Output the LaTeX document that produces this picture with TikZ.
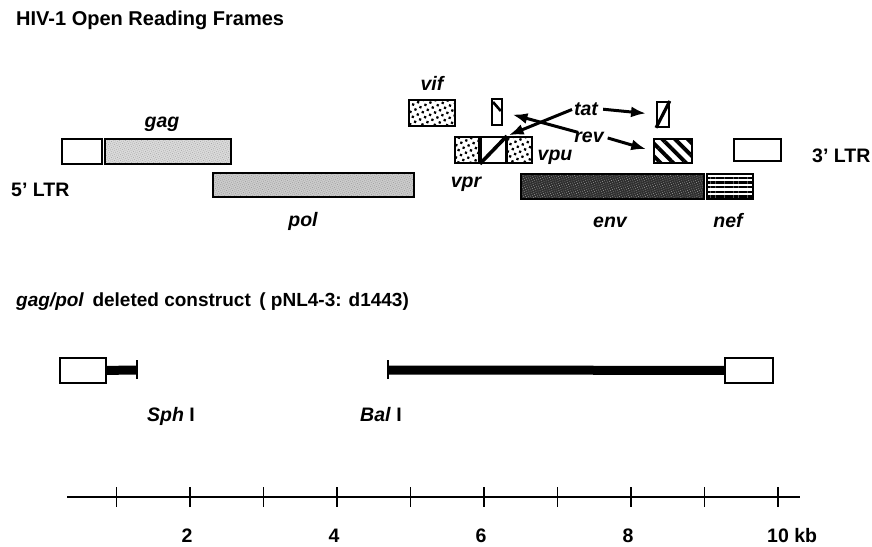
\documentclass[tikz,border=0pt]{standalone}
\usepackage{fontspec}
\setmainfont{Liberation Sans}
\usetikzlibrary{arrows.meta, patterns, patterns.meta}

\tikzset{
  orf/.style={draw, line width=1.8pt, inner sep=0pt, anchor=north west},
  genelbl/.style={font=\fontsize{19.5}{22}\selectfont\bfseries\itshape, anchor=base, inner sep=0pt},
  plainlbl/.style={font=\fontsize{19.5}{22}\selectfont\bfseries, anchor=base, inner sep=0pt},
  stipple/.style={preaction={fill=gray!28}, pattern={Dots[radius=0.45pt, distance=1.9pt, angle=20]}, pattern color=gray!75},
  speckle/.style={pattern={Dots[radius=1.6pt, distance=5.5pt, angle=25]}},
  readarrow/.style={line width=3pt, -{Latex[length=15pt, width=11pt]}},
  construct/.style={line width=9pt}
}

\begin{document}
\begin{tikzpicture}[x=1pt, y=-1pt]
  \useasboundingbox (0,0) rectangle (872,546);
  % open reading frames
  \node[plainlbl, anchor=base west, font=\fontsize{20}{22}\selectfont\bfseries] (title) at (16,25) {HIV-1 Open Reading Frames};
  \node[orf, minimum width=40, minimum height=25] (ltrfive) at (61,138) {};
  \node[orf, stipple, minimum width=126, minimum height=25] (gag) at (104,138) {};
  \node[orf, stipple, pattern color=gray!85, preaction={fill=gray!40}, minimum width=201, minimum height=24] (pol) at (212,172) {};
  \node[orf, speckle, minimum width=46, minimum height=26] (vif) at (408,99) {};
  \node[orf, minimum width=10, minimum height=26] (revone) at (491,98) {};
  \draw[line width=2.6pt] ([xshift=2,yshift=-4]revone.north west) -- ([xshift=-2,yshift=-13]revone.north east);
  \node[orf, speckle, minimum width=24, minimum height=26] (vpr) at (454,136) {};
  \node[orf, minimum width=25, minimum height=26] (tatone) at (480,136) {};
  \draw[line width=3.6pt] (tatone.south west) -- (tatone.north east);
  \node[orf, speckle, minimum width=25, minimum height=26] (vpu) at (506,136) {};
  \node[orf, minimum width=12, minimum height=25] (tattwo) at (656,101) {};
  \draw[line width=3.2pt] (tattwo.south west) -- (tattwo.north east);
  \node[orf, pattern={Lines[angle=-45, distance=9pt, line width=3.8pt]}, minimum width=38, minimum height=24] (revtwo) at (652,137) {};
  \node[orf, minimum width=47, minimum height=22] (ltrthree) at (733,138) {};
  \node[orf, preaction={fill=black!82}, pattern={Dots[radius=0.45pt, distance=2.2pt, angle=20]}, pattern color=gray!70, minimum width=183, minimum height=25] (env) at (520,173) {};
  \node[orf, pattern={Lines[angle=0, distance=4.6pt, line width=2.4pt]}, minimum width=46, minimum height=25] (nef) at (706,173) {};

  \node[genelbl] (gaglbl) at (162,127) {gag};
  \node[genelbl] (pollbl) at (303,226) {pol};
  \node[genelbl] (viflbl) at (432,90) {vif};
  \node[genelbl] (vprlbl) at (466,187) {vpr};
  \node[genelbl] (vpulbl) at (555,160) {vpu};
  \node[genelbl] (tatlbl) at (586,115) {tat};
  \node[genelbl] (revlbl) at (589,142) {rev};
  \node[genelbl] (envlbl) at (610,227) {env};
  \node[genelbl] (neflbl) at (728,227) {nef};
  \node[plainlbl, anchor=base west] (ltrfivelbl) at (11,196) {5' LTR};
  \node[plainlbl, anchor=base west] (ltrthreelbl) at (812,162) {3' LTR};

  \draw[readarrow, shorten <=2pt, shorten >=2pt] (tatlbl.west) -- (tatone.north east);
  \draw[readarrow, shorten <=-4pt, shorten >=10pt] (revlbl.north west) -- (revone.east);
  \draw[readarrow, shorten <=5pt, shorten >=10pt] (tatlbl.east) -- (tattwo.west);
  \draw[readarrow, shorten <=4pt, shorten >=6pt] (revlbl.east) -- (revtwo.west);

  % deleted construct
  \node[plainlbl, anchor=base west, font=\fontsize{19}{22}\selectfont\bfseries] (title2) at (16,306) {\textit{gag/pol}\, deleted construct \,( pNL4-3: d1443)};
  \node[orf, minimum width=46, minimum height=25] (ltrleft) at (59,357) {};
  \node[orf, minimum width=48, minimum height=25] (ltrright) at (724,357) {};
  \coordinate (sph) at (137,370);
  \coordinate (bal) at (388,370);
  \draw[construct] (ltrleft.east) -- (sph);
  \draw[construct] (bal) -- (ltrright.west);
  \draw[line width=1.4pt] ([yshift=-9]sph) -- ([yshift=10]sph);
  \draw[line width=1.4pt] ([yshift=-9]bal) -- ([yshift=10]bal);
  \node[plainlbl, anchor=base west] (sphlbl) at (147,421) {\textit{Sph} I};
  \node[plainlbl, anchor=base west] (ballbl) at (360,421) {\textit{Bal} I};

  % kb scale
  \coordinate (rulerstart) at (67,497);
  \coordinate (rulerend) at (800,497);
  \draw[line width=1.6pt] (rulerstart) -- (rulerend);
  \foreach \k in {1,...,10}
    \draw[line width=1.6pt] (43+73.5*\k,487) -- (43+73.5*\k,507);
  \foreach \k in {2,4,6,8}
    \node[plainlbl] (kb\k) at (40+73.5*\k,542) {\k};
  \node[plainlbl, anchor=base west] (kb10) at (767,542) {10 kb};
\end{tikzpicture}
\end{document}
